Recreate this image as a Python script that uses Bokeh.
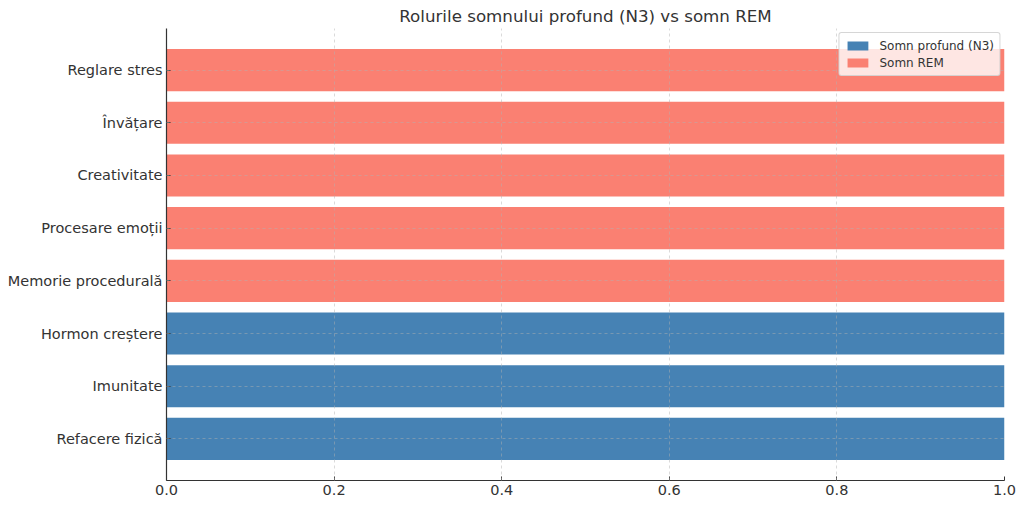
from bokeh.plotting import figure
from bokeh.models import FactorRange, Range1d, FixedTicker, NumeralTickFormatter, ColumnDataSource
from bokeh.embed import file_html
from bokeh.resources import INLINE

deep_roles = ["Refacere fizică", "Imunitate", "Hormon creștere"]
deep_values = [1, 1, 1]
rem_roles = ["Memorie procedurală", "Procesare emoții", "Creativitate", "Învățare", "Reglare stres"]
rem_values = [1, 1, 1, 1, 1]
x_ticks = [0.0, 0.2, 0.4, 0.6, 0.8, 1.0]
title_text = "Rolurile somnului profund (N3) vs somn REM"
deep_label = "Somn profund (N3)"
rem_label = "Somn REM"

factors = deep_roles + rem_roles
FONT = "DejaVu Sans"
TXT = "#333333"

p = figure(width=1024, height=508, output_backend="svg", toolbar_location=None,
           y_range=FactorRange(factors=factors, range_padding=0.0725, range_padding_units="percent"),
           x_range=Range1d(0, 1), min_border_left=166, min_border_right=20,
           min_border_top=0, min_border_bottom=28)

p.title.text = title_text
p.title.align = "center"
p.title.text_font = FONT
p.title.text_font_size = "16.7px"
p.title.text_font_style = "normal"
p.title.text_color = TXT
p.title.standoff = 6
p.title.offset = 0

src_d = ColumnDataSource(dict(y=deep_roles, x=deep_values))
src_r = ColumnDataSource(dict(y=rem_roles, x=rem_values))
p.hbar(y="y", right="x", left=0, height=0.8, source=src_d, color="#4682B4", line_color=None,
       legend_label=deep_label)
p.hbar(y="y", right="x", left=0, height=0.8, source=src_r, color="#FA8072", line_color=None,
       legend_label=rem_label)

p.outline_line_color = None
for ax in (p.xaxis[0], p.yaxis[0]):
    ax.axis_line_color = TXT
    ax.axis_line_width = 1.2
    ax.major_tick_in = 4
    ax.major_tick_out = 0
    ax.major_tick_line_color = TXT
    ax.minor_tick_line_color = None
    ax.major_label_text_font = FONT
    ax.major_label_text_font_size = "14.5px"
    ax.major_label_text_color = TXT
    ax.major_label_standoff = 4

p.xaxis.ticker = FixedTicker(ticks=x_ticks)
p.xaxis.formatter = NumeralTickFormatter(format="0.0")

for g in (p.xgrid[0], p.ygrid[0]):
    g.grid_line_color = "#b0b0b0"
    g.grid_line_alpha = 0.6
    g.grid_line_dash = "3 3"
    g.grid_line_width = 0.8
    g.level = "guide"

p.legend.location = "top_right"
p.legend.margin = 4
p.legend.padding = 5
p.legend.spacing = 2
p.legend.label_text_font = FONT
p.legend.label_text_font_size = "12px"
p.legend.label_text_color = TXT
p.legend.glyph_width = 26
p.legend.glyph_height = 11
p.legend.label_height = 15
p.legend.label_standoff = 9
p.legend.background_fill_alpha = 0.8
p.legend.border_line_color = "#cccccc"
p.legend.border_line_alpha = 0.8
p.legend.border_radius = 3

open("out.html", "w").write(file_html(p, INLINE))
